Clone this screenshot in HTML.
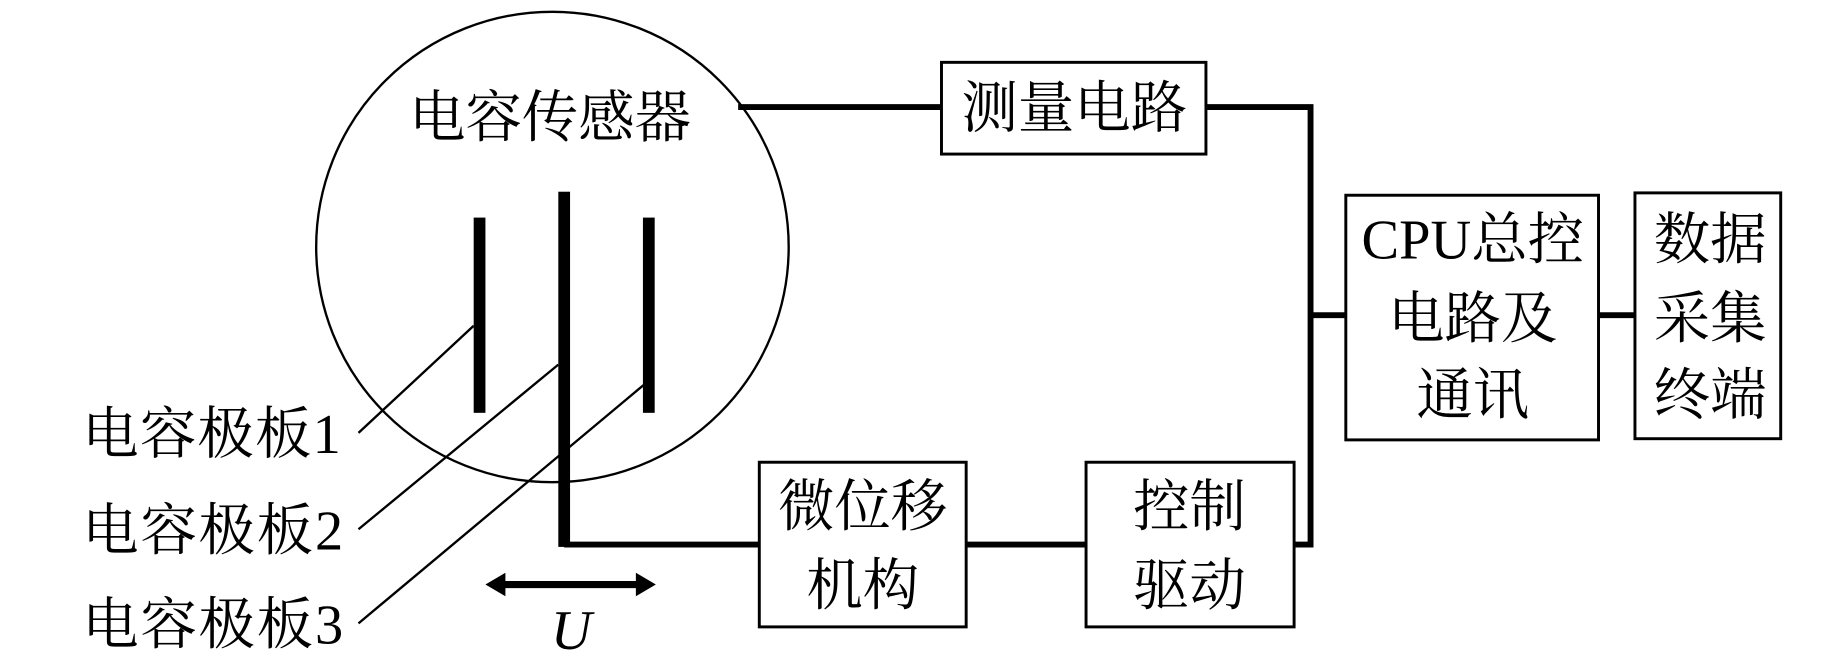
<!DOCTYPE html>
<html><head><meta charset="utf-8"><style>html,body{margin:0;padding:0;background:#fff}svg{display:block}</style></head>
<body>
<svg width="1843" height="661" viewBox="0 0 1568 562" preserveAspectRatio="none" xmlns="http://www.w3.org/2000/svg" font-family="'Liberation Serif','Noto Serif CJK SC',serif" font-size="46" fill="#000">
<rect width="1568" height="562" fill="#fff"/>
<ellipse cx="470" cy="210" rx="201" ry="200" fill="none" stroke="#000" stroke-width="2"/>
<text x="468" y="116" text-anchor="middle" font-size="48">电容传感器</text>
<rect x="403" y="185" width="10" height="166"/>
<rect x="475" y="163" width="10" height="302"/>
<rect x="547" y="185" width="10" height="166"/>
<g stroke="#000" stroke-width="2">
<line x1="403" y1="277" x2="305" y2="368"/>
<line x1="475" y1="310" x2="305" y2="450"/>
<line x1="548" y1="327" x2="305" y2="530"/>
</g>
<g font-size="48" textLength="220">
<text x="70" y="385" textLength="220">电容极板1</text>
<text x="70" y="467" textLength="222">电容极板2</text>
<text x="70" y="547" textLength="222">电容极板3</text>
</g>
<line x1="425" y1="497" x2="546" y2="497" stroke="#000" stroke-width="6"/>
<polygon points="413,497 430,487 430,507"/>
<polygon points="558,497 541,487 541,507"/>
<text x="486" y="552" text-anchor="middle" font-style="italic" font-size="48">U</text>
<g stroke="#000" stroke-width="5" fill="none">
<polyline points="628,91 801,91"/>
<polyline points="1026,91 1115,91 1115,463 1101,463"/>
<line x1="480" y1="463" x2="646" y2="463"/>
<line x1="822" y1="463" x2="924" y2="463"/>
<line x1="1115" y1="268" x2="1145" y2="268"/>
<line x1="1360" y1="268" x2="1391" y2="268"/>
</g>
<g stroke="#000" stroke-width="2.5" fill="none">
<rect x="801" y="53" width="225" height="78"/>
<rect x="1145" y="166" width="215" height="208"/>
<rect x="1391" y="164" width="124" height="209"/>
<rect x="646" y="393" width="176" height="140"/>
<rect x="924" y="393" width="177" height="140"/>
</g>
<g text-anchor="middle" font-size="48">
<text x="914" y="108">测量电路</text>
<text x="1253" y="220">CPU总控</text>
<text x="1253" y="287">电路及</text>
<text x="1253" y="352">通讯</text>
<text x="1455" y="220">数据</text>
<text x="1455" y="287">采集</text>
<text x="1455" y="352">终端</text>
<text x="734" y="447">微位移</text>
<text x="734" y="514">机构</text>
<text x="1012" y="447">控制</text>
<text x="1012" y="514">驱动</text>
</g>
</svg>
</body></html>
